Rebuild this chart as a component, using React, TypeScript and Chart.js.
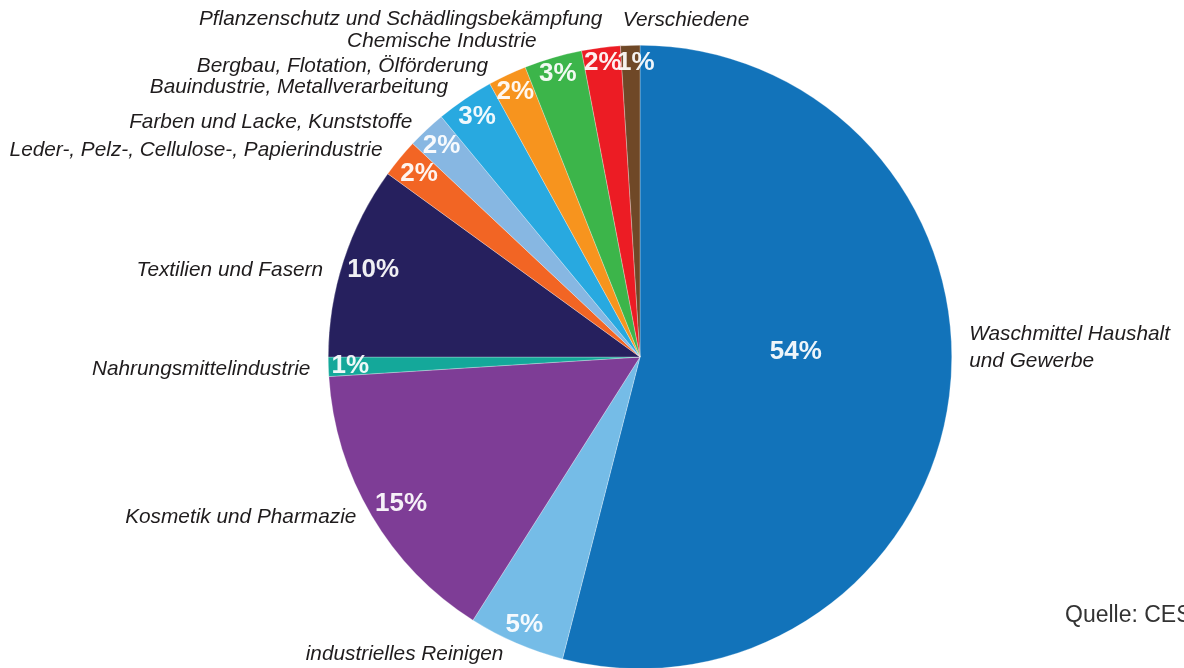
import React, { useEffect, useRef } from "react";
import { Chart, registerables } from "chart.js";

Chart.register(...registerables);

// ---- data ----
const categories: string[] = [
  "Waschmittel Haushalt\nund Gewerbe",
  "industrielles Reinigen",
  "Kosmetik und Pharmazie",
  "Nahrungsmittelindustrie",
  "Textilien und Fasern",
  "Leder-, Pelz-, Cellulose-, Papierindustrie",
  "Farben und Lacke, Kunststoffe",
  "Bauindustrie, Metallverarbeitung",
  "Bergbau, Flotation, Ölförderung",
  "Chemische Industrie",
  "Pflanzenschutz und Schädlingsbekämpfung",
  "Verschiedene",
];

const shares: number[] = [54, 5, 15, 1, 10, 2, 2, 3, 2, 3, 2, 1];

const sliceColors: string[] = [
  "#1273BA",
  "#75BCE7",
  "#7E3D96",
  "#14A89A",
  "#26205E",
  "#F26524",
  "#87B7E2",
  "#28A9E0",
  "#F7941E",
  "#3CB54A",
  "#EC1C24",
  "#6F4827",
];

const sourceNote = "Quelle: CES";

// ---- label styling (per-slice placement tweaks) ----
const innerRadiusFactor = [0.5, 0.935, 0.9, 0.93, 0.9, 0.92, 0.93, 0.93, 0.94, 0.945, 0.95, 0.945];
const innerAngleShiftDeg = [-9, 0, -1, 0, 0, 0, 0, 0, 0, 0, 0, 1];
const outerShift: [number, number][] = [
  [8, -63],
  [-8, 0],
  [-5, -5],
  [-6, 2],
  [-9, 13],
  [-8, 0],
  [-6, 1],
  [-10, -2],
  [-14, 2],
  [-13, -5],
  [3, -17],
  [-7, -13],
];
const outerAlign: (CanvasTextAlign | null)[] = [null, null, null, null, null, null, null, null, null, null, null, "left"];

const labelPlugin = {
  id: "sliceLabels",
  afterDatasetsDraw(chart: any) {
    const ctx: CanvasRenderingContext2D = chart.ctx;
    const meta = chart.getDatasetMeta(0);
    const values = chart.data.datasets[0].data as number[];
    const labels = chart.data.labels as string[];
    meta.data.forEach((arc: any, i: number) => {
      const { x, y, startAngle, endAngle, outerRadius } = arc.getProps(
        ["x", "y", "startAngle", "endAngle", "outerRadius"],
        true
      );
      const mid = (startAngle + endAngle) / 2;

      // percentage inside
      const a = mid + (innerAngleShiftDeg[i] * Math.PI) / 180;
      const r = outerRadius * innerRadiusFactor[i];
      ctx.save();
      ctx.font = "bold 26px 'Liberation Sans', Arial, sans-serif";
      ctx.fillStyle = "rgba(255,255,255,0.93)";
      ctx.textAlign = "center";
      ctx.textBaseline = "middle";
      ctx.fillText(values[i] + "%", x + r * Math.cos(a), y + r * Math.sin(a));
      ctx.restore();

      // category outside
      const ro = outerRadius + 12;
      const ax = x + ro * Math.cos(mid);
      const ay = y + ro * Math.sin(mid);
      const [dx, dy] = outerShift[i];
      const align: CanvasTextAlign = outerAlign[i] ?? (ax < x ? "right" : "left");
      ctx.save();
      ctx.font = "italic 20.8px 'Liberation Sans', Arial, sans-serif";
      ctx.fillStyle = "#1F1C1D";
      ctx.textAlign = align;
      ctx.textBaseline = "middle";
      String(labels[i])
        .split("\n")
        .forEach((line, k) => ctx.fillText(line, ax + dx, ay + dy + k * 27));
      ctx.restore();
    });

    // source note
    const area = chart.chartArea;
    ctx.save();
    ctx.font = "23px 'Liberation Sans', Arial, sans-serif";
    ctx.fillStyle = "#333333";
    ctx.textAlign = "left";
    ctx.textBaseline = "middle";
    ctx.fillText(sourceNote, area.right + 85, area.bottom - 53);
    ctx.restore();
  },
};

export default function App() {
  const canvasRef = useRef<HTMLCanvasElement | null>(null);

  useEffect(() => {
    if (!canvasRef.current) return;
    const chart = new Chart(canvasRef.current, {
      type: "pie",
      data: {
        labels: categories,
        datasets: [
          {
            data: shares,
            backgroundColor: sliceColors,
            borderColor: "rgba(255,255,255,0.55)",
            borderWidth: 0.5,
          },
        ],
      },
      options: {
        responsive: false,
        animation: false,
        devicePixelRatio: 1,
        layout: { padding: { top: 45, bottom: 1, left: 300, right: 204 } },
        plugins: {
          legend: { display: false },
          tooltip: { enabled: false },
        },
      },
      plugins: [labelPlugin],
    });
    return () => chart.destroy();
  }, []);

  return (
    <div
      style={{
        position: "fixed",
        left: 0,
        top: 0,
        width: 1184,
        height: 670,
        background: "#ffffff",
        overflow: "hidden",
      }}
    >
      <canvas ref={canvasRef} width={1184} height={670} style={{ display: "block" }} />
    </div>
  );
}
